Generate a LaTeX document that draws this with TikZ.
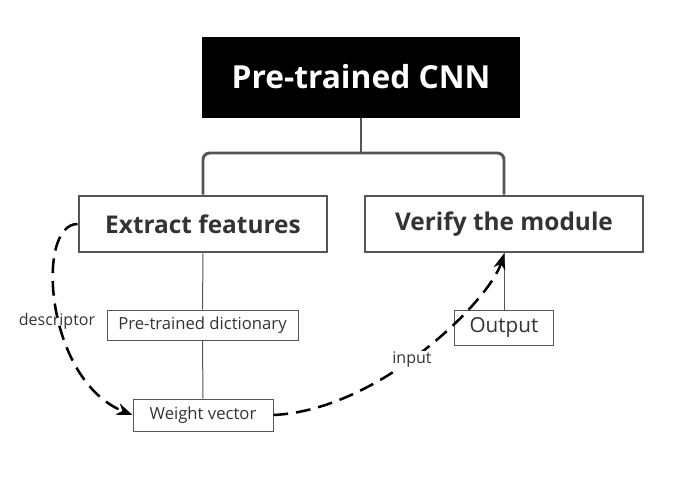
\documentclass[tikz,border=0pt]{standalone}
\usepackage{fontspec}
\setmainfont{Open Sans}
\usetikzlibrary{arrows.meta}
\definecolor{ln}{HTML}{555555}
\definecolor{tx}{HTML}{333333}
\begin{document}
\begin{tikzpicture}[x=0.75pt,y=-0.75pt,
  bigbox/.style={draw=ln,line width=2.2pt,fill=white,text=tx,font=\bfseries\fontsize{18.3}{22}\selectfont,inner sep=0pt},
  smallbox/.style={draw=ln,line width=0.75pt,fill=white,text=tx,font=\fontsize{12.5}{15}\selectfont,inner sep=0pt},
  thinline/.style={draw=ln,line width=0.75pt},
  thickline/.style={draw=ln,line width=2.2pt,rounded corners=5pt},
  dashedarrow/.style={draw=black,line width=1.9pt,dash pattern=on 11pt off 6pt,-{Stealth[length=12pt,width=9pt]}},
  lbl/.style={text=tx,font=\fontsize{12}{14}\selectfont,inner sep=1pt}]
\useasboundingbox (0,0) rectangle (685,480);
\node[fill=black,text=white,font=\bfseries\fontsize{23.8}{28}\selectfont,minimum width=318*0.75pt,minimum height=81*0.75pt,inner sep=0pt] (cnn) at (361,77) {Pre-trained CNN};
\node[bigbox,minimum width=248*0.75pt,minimum height=56*0.75pt] (ext) at (203,224) {Extract features};
\node[bigbox,minimum width=278*0.75pt,minimum height=56*0.75pt] (ver) at (504,224) {Verify the module};
\node[smallbox,minimum width=191*0.75pt,minimum height=30*0.75pt] (dict) at (202.5,325) {Pre-trained dictionary};
\node[smallbox,minimum width=140*0.75pt,minimum height=32*0.75pt] (wv) at (203,415) {Weight vector};
\node[smallbox,minimum width=99*0.75pt,minimum height=35*0.75pt,font=\fontsize{15.5}{18}\selectfont] (out) at (504,327.5) {Output};
\coordinate (bar) at (361,153);
\draw[thickline] (cnn.south) -- (bar);
\draw[thickline] (ext.north) |- (bar) -| (ver.north);
\draw[thinline] (ext.south) -- (dict.north);
\draw[thinline] (dict.south) -- (wv.north);
\draw[thinline] (out.north) -- (ver.south);
\draw[dashedarrow] (ext.west) .. controls (35,224) and (45,380) .. (wv.west);
\draw[dashedarrow] (wv.east) .. controls (380,410) and (490,300) .. (ver.south);
\node[lbl,fill=white] (lin) at (412,360) {input};
\node[lbl] (ldes) at (57,321) {descriptor};
\end{tikzpicture}
\end{document}
